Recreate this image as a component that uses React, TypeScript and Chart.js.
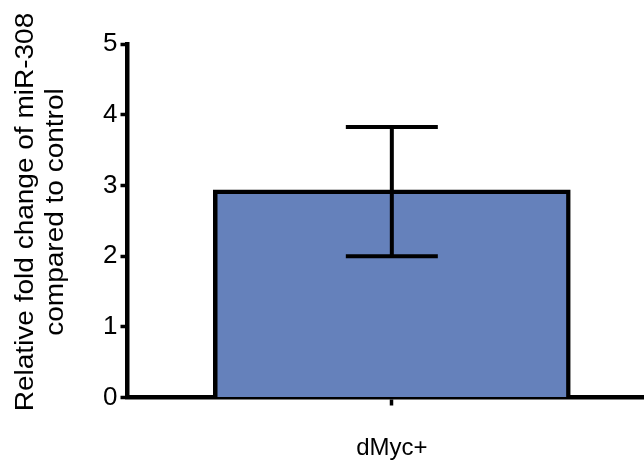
import React, { useEffect, useRef } from 'react';
import { Chart, registerables } from 'chart.js';

Chart.register(...registerables);

// ---- data ----
const categories: string[] = ['dMyc+'];
const meanValues: number[] = [2.94];
const errorLow: number[] = [2.0];
const errorHigh: number[] = [3.83];
const yTickValues: number[] = [0, 1, 2, 3, 4, 5];
const yTitleLines: string[] = ['Relative fold change of miR-308', 'compared to control'];

const FONT = '"Liberation Sans", Arial, Helvetica, sans-serif';

const errorBarPlugin = {
  id: 'errorBars',
  afterDatasetsDraw(chart: any) {
    const xs = chart.scales.x;
    const ys = chart.scales.y;
    const ctx = chart.ctx;
    ctx.save();
    ctx.strokeStyle = '#000';
    ctx.lineWidth = 4;
    ctx.lineCap = 'butt';
    categories.forEach((_, i) => {
      const x = xs.getPixelForValue(i);
      const yt = ys.getPixelForValue(errorHigh[i]);
      const yb = ys.getPixelForValue(errorLow[i]);
      const cap = 46;
      ctx.beginPath();
      ctx.moveTo(x, yt);
      ctx.lineTo(x, yb);
      ctx.moveTo(x - cap, yt);
      ctx.lineTo(x + cap, yt);
      ctx.moveTo(x - cap, yb);
      ctx.lineTo(x + cap, yb);
      ctx.stroke();
    });
    ctx.restore();
  },
};

const yTitlePlugin = {
  id: 'yTitle',
  afterDraw(chart: any) {
    const ctx = chart.ctx;
    ctx.save();
    ctx.translate(0, 212);
    ctx.rotate(-Math.PI / 2);
    ctx.scale(1.12, 1);
    ctx.fillStyle = '#000';
    ctx.font = `25px ${FONT}`;
    ctx.textAlign = 'center';
    ctx.textBaseline = 'alphabetic';
    const baselines = [33, 62.5];
    yTitleLines.forEach((line, i) => {
      ctx.fillText(line, 0, baselines[i]);
    });
    ctx.restore();
  },
};

function BarChart() {
  const canvasRef = useRef<HTMLCanvasElement | null>(null);

  useEffect(() => {
    document.body.style.margin = '0';
    const canvas = canvasRef.current;
    if (!canvas) return;
    const chart = new Chart(canvas, {
      type: 'bar',
      data: {
        datasets: [
          {
            label: 'mean',
            data: meanValues.map((v, i) => ({ x: i, y: v })),
            backgroundColor: '#6581BB',
            borderColor: '#000000',
            borderWidth: 4.5,
            borderSkipped: 'bottom',
            barThickness: 357,
          },
        ],
      },
      options: {
        animation: false,
        responsive: true,
        maintainAspectRatio: false,
        layout: { padding: { top: 44.3, left: 0, right: 0, bottom: 0 } },
        plugins: {
          legend: { display: false },
          tooltip: { enabled: false },
        },
        scales: {
          x: {
            type: 'linear',
            offset: false,
            min: -0.5,
            max: 0.477,
            afterBuildTicks: (scale: any) => {
              scale.ticks = categories.map((_, i) => ({ value: i }));
            },
            afterFit: (scale: any) => {
              scale.height = 63.5;
            },
            grid: {
              display: true,
              offset: false,
              drawOnChartArea: false,
              drawTicks: true,
              tickLength: 8,
              tickWidth: 3.5,
              tickColor: '#000',
            },
            border: { display: true, color: '#000', width: 4.5 },
            ticks: {
              color: '#000',
              font: { family: FONT, size: 24 },
              padding: 28,
              maxRotation: 0,
              callback: (v: any) => categories[Number(v)] ?? '',
            },
          },
          y: {
            type: 'linear',
            min: 0,
            max: 5,
            afterBuildTicks: (scale: any) => {
              scale.ticks = yTickValues.map((v) => ({ value: v }));
            },
            afterFit: (scale: any) => {
              scale.width = 127.5;
            },
            grid: {
              display: true,
              drawOnChartArea: false,
              drawTicks: true,
              tickLength: 7,
              tickWidth: 3.5,
              tickColor: '#000',
            },
            border: { display: true, color: '#000', width: 4.5 },
            ticks: {
              color: '#000',
              font: { family: FONT, size: 26 },
              padding: 3,
              callback: (v: any) => String(v),
            },
          },
        },
      },
      plugins: [errorBarPlugin, yTitlePlugin],
    });
    return () => chart.destroy();
  }, []);

  return (
    <div style={{ position: 'fixed', left: 0, top: 0, width: 644, height: 461 }}>
      <canvas ref={canvasRef} />
    </div>
  );
}

export default function App() {
  return <BarChart />;
}
